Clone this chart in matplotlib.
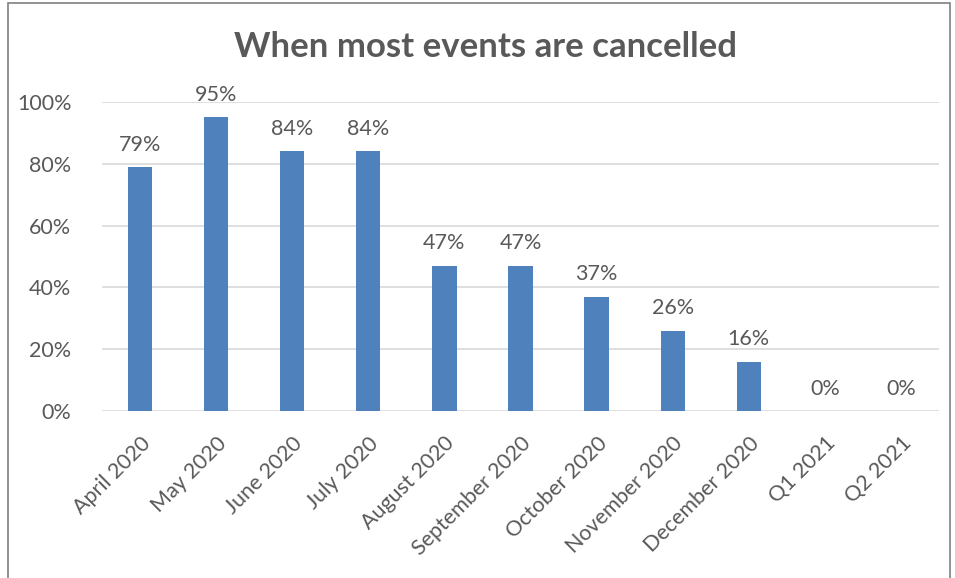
import matplotlib.pyplot as plt
from matplotlib.patches import Rectangle
from matplotlib.ticker import PercentFormatter

categories = ["April 2020", "May 2020", "June 2020", "July 2020", "August 2020",
              "September 2020", "October 2020", "November 2020", "December 2020",
              "Q1 2021", "Q2 2021"]
values = [79, 95, 84, 84, 47, 47, 37, 26, 16, 0, 0]

plt.rcParams['font.family'] = ['Lato', 'DejaVu Sans']
text_col = "#595959"

fig = plt.figure(figsize=(9.55, 5.78), dpi=100)
ax = fig.add_axes([102 / 955, 1 - 411 / 578, (939 - 102) / 955, (411 - 102) / 578])

x = range(len(categories))
bars = ax.bar(x, values, width=0.32, color="#4F81BD", zorder=3)
for xi, v in zip(x, values):
    ax.text(xi, v + 4, f"{v}%", ha="center", va="bottom", fontsize=15.5, color=text_col)

ax.set_xlim(-0.5, len(categories) - 0.5)
ax.set_ylim(0, 100)
ax.set_yticks(range(0, 101, 20))
ax.yaxis.set_major_formatter(PercentFormatter(decimals=0))
ax.set_xticks(list(x))
ax.set_xticklabels(categories, rotation=45, ha="right", rotation_mode="anchor")
ax.tick_params(axis="both", length=0, labelsize=15.5, colors=text_col)
ax.tick_params(axis="y", pad=22)
ax.tick_params(axis="x", pad=16)
ax.grid(axis="y", color="#D9D9D9", linewidth=1.2, zorder=0)
for s in ax.spines.values():
    s.set_visible(False)

fig.text(485 / 955, 1 - 47 / 578, "When most events are cancelled", ha="center", va="center",
         fontsize=25, fontweight="bold", color=text_col)

fig.patches.append(Rectangle((8 / 955, -0.1), (950 - 8) / 955, 1.1 - 3 / 578,
                             transform=fig.transFigure, fill=False,
                             edgecolor="#7F7F7F", linewidth=1.2))

fig.savefig("out.png", dpi=100)
